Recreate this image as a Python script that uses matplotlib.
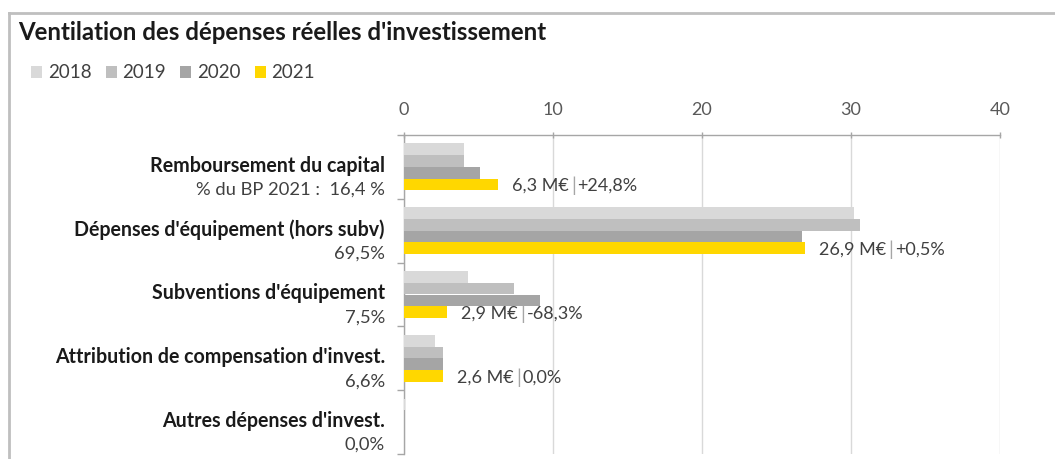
import matplotlib
matplotlib.use("Agg")
import matplotlib.pyplot as plt
from matplotlib.lines import Line2D
import numpy as np

plt.rcParams['font.family'] = ['Lato', 'DejaVu Sans']

categories = ["Remboursement du capital", "Dépenses d'équipement (hors subv)",
              "Subventions d'équipement", "Attribution de compensation d'invest.",
              "Autres dépenses d'invest."]
subtitles = ["% du BP 2021 :  16,4 %", "69,5%", "7,5%", "6,6%", "0,0%"]
years = ["2018", "2019", "2020", "2021"]
v2018 = [4.0, 30.2, 4.3, 2.1, 0.1]
v2019 = [4.0, 30.6, 7.4, 2.6, 0.0]
v2020 = [5.1, 26.7, 9.1, 2.6, 0.0]
v2021 = [6.3, 26.9, 2.9, 2.6, 0.0]
label_amount = ["6,3 M€", "26,9 M€", "2,9 M€", "2,6 M€", ""]
label_var = ["+24,8%", "+0,5%", "-68,3%", "0,0%", ""]
xticks = [0, 10, 20, 30, 40]

colors = ["#D9D9D9", "#BFBFBF", "#A5A5A5", "#FFD700"]
series = [v2018, v2019, v2020, v2021]

W, H = 1055, 459
fig = plt.figure(figsize=(W / 100, H / 100), dpi=100)
ax = fig.add_axes([404 / W, 1 - 454 / H, (1000 - 404) / W, (454 - 135) / H])

n = len(categories)
y = np.arange(n)
h = 0.184
offsets = [-1.5 * h, -0.5 * h, 0.5 * h, 1.5 * h]
for vals, c, off, yr in zip(series, colors, offsets, years):
    ax.barh(y + off, vals, height=h, color=c, label=yr, zorder=3)

ax.set_xlim(0, 40)
ax.set_ylim(n - 0.5, -0.5)
ax.xaxis.tick_top()
ax.set_xticks(xticks)
ax.set_xticklabels([str(t) for t in xticks])
ax.tick_params(axis='x', colors='#A6A6A6', labelcolor='#595959', labelsize=13,
               length=5, direction='inout', pad=10, width=1)
ax.grid(axis='x', color='#D9D9D9', lw=1, zorder=0)
ax.set_yticks(np.arange(-0.5, n, 1.0))
ax.set_yticklabels([])
ax.tick_params(axis='y', colors='#A6A6A6', length=5, width=1, direction='out')
for s in ['right', 'bottom']:
    ax.spines[s].set_visible(False)
for s in ['top', 'left']:
    ax.spines[s].set_color('#A6A6A6')
    ax.spines[s].set_linewidth(1)

# category labels
tr = ax.get_yaxis_transform()
for i in range(n):
    ax.annotate(categories[i], xy=(-0.032, y[i]), xycoords=tr, xytext=(0, 1),
                textcoords='offset points', ha='right', va='center',
                fontsize=14.1, fontweight='bold', color='#1a1a1a')
    ax.annotate(subtitles[i], xy=(-0.032, y[i]), xycoords=tr, xytext=(0, -16.5),
                textcoords='offset points', ha='right', va='center',
                fontsize=13.2, color='#404040')

# data labels
for i in range(n):
    if not label_amount[i]:
        continue
    t1 = ax.annotate(label_amount[i], xy=(v2021[i], y[i] + offsets[3]), xytext=(10, -1),
                     textcoords='offset points', ha='left', va='center',
                     fontsize=13, color='#404040')
    t2 = ax.annotate("|", xy=(1, 0.5), xycoords=t1, xytext=(2, 0),
                     textcoords='offset points', ha='left', va='center',
                     fontsize=14, color='#A6A6A6')
    ax.annotate(label_var[i], xy=(1, 0.5), xycoords=t2, xytext=(1, 0),
                textcoords='offset points', ha='left', va='center',
                fontsize=13, color='#404040')

# title
fig.text(18 / W, 1 - 33 / H, "Ventilation des dépenses réelles d'investissement",
         fontsize=17.3, fontweight='bold', color='#1a1a1a', ha='left', va='center')

# legend
leg = fig.legend(loc='center left', bbox_to_anchor=(31 / W, 1 - 73 / H), ncol=4,
                 frameon=False, fontsize=13.5, handlelength=0.6, handleheight=0.6,
                 handletextpad=0.3, columnspacing=0.75, borderaxespad=0, borderpad=0)
for t in leg.get_texts():
    t.set_color('#404040')

# outer border
fig.add_artist(Line2D([9 / W, 9 / W], [0, 1 - 13 / H], color='#BFBFBF', lw=2,
                      transform=fig.transFigure))
fig.add_artist(Line2D([9 / W, 1], [1 - 13 / H, 1 - 13 / H], color='#BFBFBF', lw=2,
                      transform=fig.transFigure))

fig.savefig("out.png", dpi=100, facecolor='white')
